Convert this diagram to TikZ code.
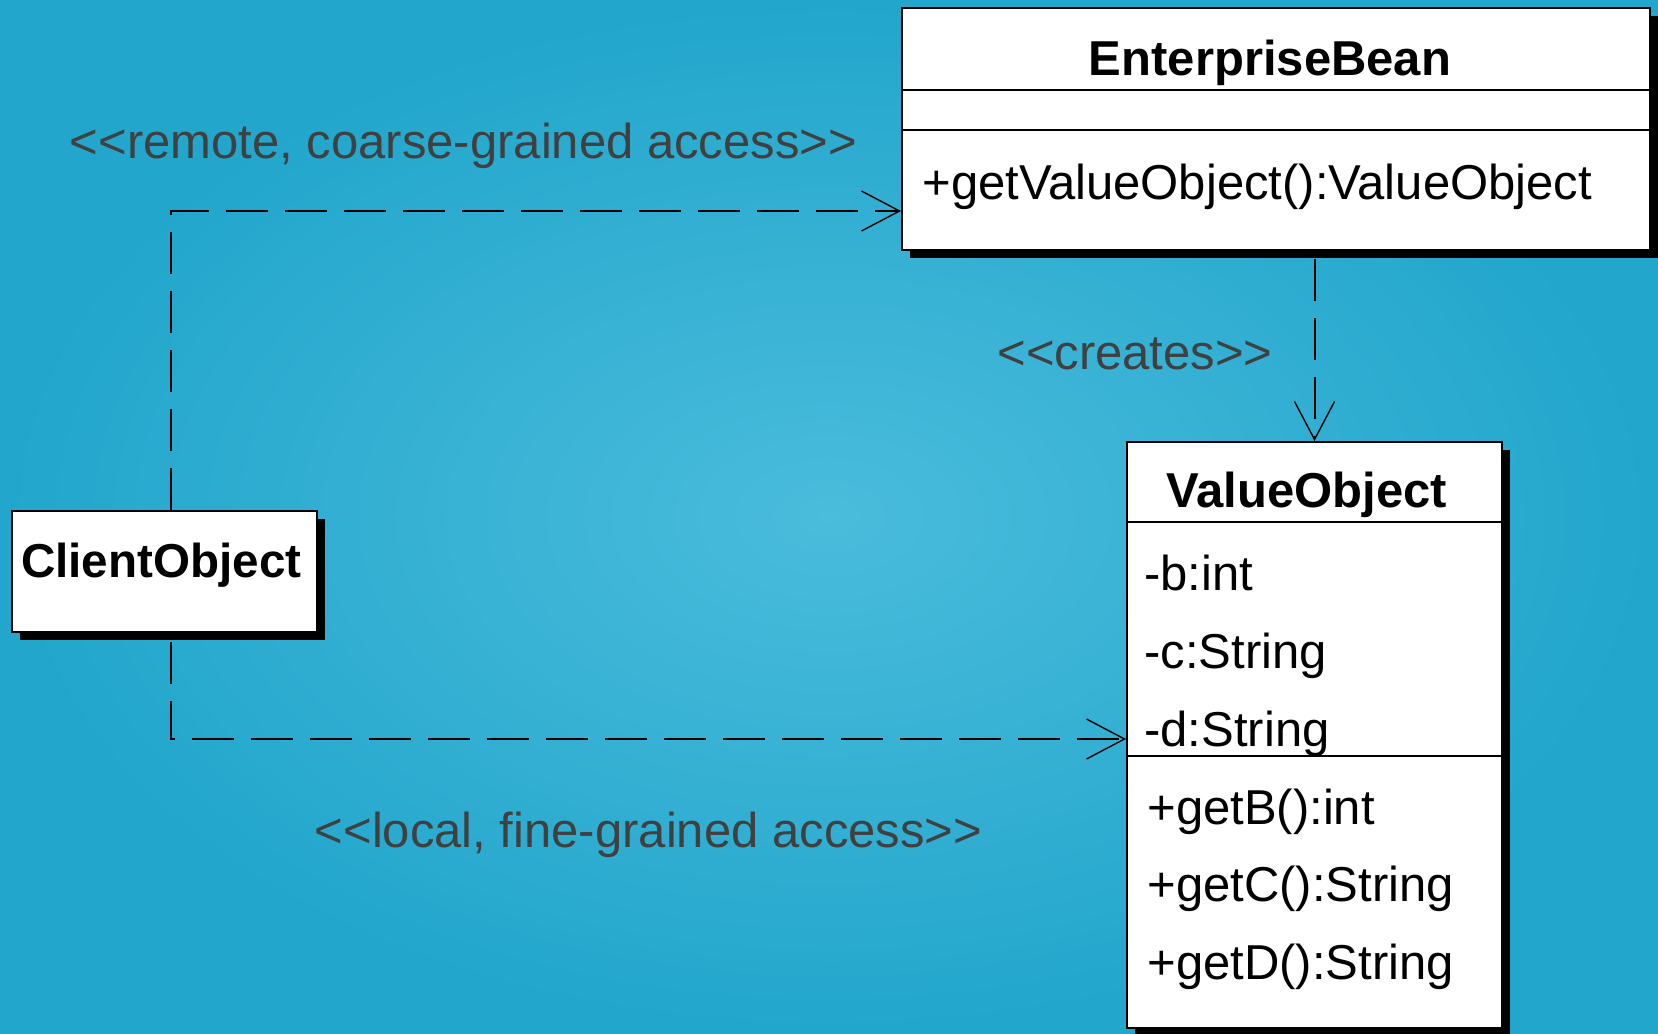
\documentclass[tikz,border=0pt]{standalone}
\usepackage{fontspec}
\setmainfont{Liberation Sans}
\usetikzlibrary{arrows.meta, shadows}
\definecolor{bgdark}{RGB}{34,166,204}
\definecolor{bglight}{RGB}{74,188,220}
\tikzstyle{classbox} = [rectangle, draw=black, line width=1pt, fill=white, inner sep=0pt, drop shadow={shadow xshift=4pt, shadow yshift=-4pt, fill=black, opacity=1}]
\tikzstyle{classname} = [font=\bfseries\fontsize{24.5}{29}\selectfont, inner sep=0pt, text height=17.5pt, text depth=0pt]
\tikzstyle{member} = [anchor=west, font=\fontsize{24.5}{29}\selectfont, inner sep=0pt, text height=17.5pt, text depth=0pt]
\tikzstyle{stereo} = [font=\fontsize{24.5}{29}\selectfont, text=black!75, inner sep=0pt, text height=17.5pt, text depth=0pt]
\tikzstyle{dep} = [line width=1pt, dash pattern=on 21pt off 8.5pt, -{Straight Barb[length=19pt, width=20pt, line width=0.7pt]}]
\newcommand{\stopen}{<\kern0pt<}
\newcommand{\stclose}{>\kern0pt>}

\begin{document}
\begin{tikzpicture}[x=0.5pt, y=-0.5pt]
		\shade[inner color=bglight, outer color=bgdark] (0,0) rectangle (1658,1033);
		\useasboundingbox (0,0) rectangle (1658,1033);

		% EnterpriseBean
		\node (ebn) [classbox, minimum width=374pt, minimum height=41pt] at (1276,49) {};
		\node (eba) [classbox, minimum width=374pt, minimum height=20pt] at (1276,110) {};
		\node (ebo) [classbox, minimum width=374pt, minimum height=60pt] at (1276,190) {};
		\node (ebname) [classname] at (1270,58) {EnterpriseBean};
		\node (ebop) [member] at (922,182) {+getValueObject():ValueObject};

		% ValueObject
		\node (vn) [classbox, minimum width=187.5pt, minimum height=40pt] at (1314.5,482) {};
		\node (va) [classbox, minimum width=187.5pt, minimum height=117pt] at (1314.5,639) {};
		\node (vo) [classbox, minimum width=187.5pt, minimum height=136pt] at (1314.5,892) {};
		\node (vname) [classname] at (1307,490) {ValueObject};
		\node (vb) [member] at (1144,573) {-b:int};
		\node (vc) [member] at (1144,651) {-c:String};
		\node (vd) [member] at (1144,729) {-d:String};
		\node (vgb) [member] at (1147,807) {+getB():int};
		\node (vgc) [member] at (1147,884) {+getC():String};
		\node (vgd) [member] at (1147,962) {+getD():String};

		% ClientObject
		\node (cl) [classbox, minimum width=152.5pt, minimum height=60.5pt, text width=143.5pt, inner xsep=4.5pt, align=left, font=\bfseries\fontsize{23.8}{29}\selectfont, text height=17pt, text depth=11pt] at (164.5,571.5) {ClientObject};

		% stereotypes
		\node (remote) [stereo] at (463.5,141) {\stopen remote, coarse-grained access\stclose};
		\node (creates) [stereo] at (1135,352) {\stopen creates\stclose};
		\node (local) [stereo] at (648.5,830) {\stopen local, fine-grained access\stclose};

		\coordinate (cstart) at ([yshift=-4pt]ebo.south);
		\draw [dep] ([xshift=3pt]cl.north) |- ([yshift=-10.5pt]ebo.west);
		\draw [dep] ([xshift=3pt,yshift=-4.5pt]cl.south) |- ([yshift=-50pt]va.west);
		\draw [dep] (vn.north |- cstart) -- (vn.north);
\end{tikzpicture}
\end{document}
